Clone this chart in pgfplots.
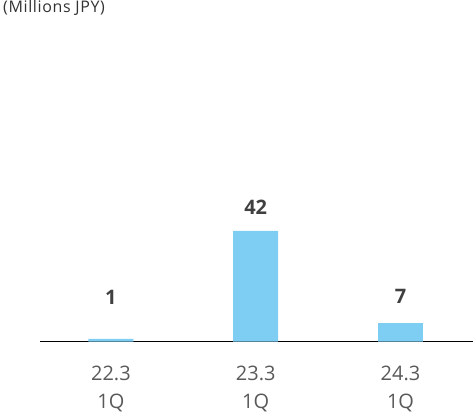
\documentclass[border=0pt]{standalone}
\usepackage{pgfplots}
\pgfplotsset{compat=1.18}
\usepackage{fontspec}
\setmainfont{Open Sans}
\definecolor{barblue}{HTML}{7ECEF4}
\definecolor{ticktext}{HTML}{595959}
\definecolor{labeltext}{HTML}{404040}

\begin{document}
\begin{tikzpicture}
\begin{axis}[
  scale only axis,
  width=434bp, height=322bp,
  xmin=-0.49, xmax=2.503,
  ymin=0, ymax=122,
  axis x line=bottom,
  axis y line=none,
  x axis line style={-, line width=1.3bp, black},
  xtick={0,1,2},
  xticklabels={{22.3\\1Q},{23.3\\1Q},{24.3\\1Q}},
  major tick length=0pt,
  xticklabel style={align=center, font=\fontsize{20bp}{28.5bp}\selectfont, text=ticktext, yshift=-21bp},
  /pgf/number format/assume math mode=true,
  clip=false,
]
\addplot[ybar, bar width=45bp, fill=barblue, draw=none] coordinates {(0,1) (1,42) (2,7)};
% data labels, placed as in the source
\addplot[draw=none, mark=none, point meta=explicit symbolic,
  nodes near coords,
  every node near coord/.append style={anchor=center, font=\bfseries\fontsize{20bp}{24bp}\selectfont, text=labeltext}]
  coordinates {(0,16.7) [1] (1,51.1) [42] (2,17.0) [7]};
\end{axis}
\node[anchor=base west, font=\addfontfeature{LetterSpace=4}\fontsize{16bp}{18bp}\selectfont, text=black!80, inner sep=0pt] at ([xshift=-37bp, yshift=7.7bp]current axis.north west) {(Millions JPY)};
\path[use as bounding box] ([xshift=-40bp, yshift=-68bp]current axis.south west) rectangle ([yshift=20bp]current axis.north east);
\end{tikzpicture}
\end{document}
